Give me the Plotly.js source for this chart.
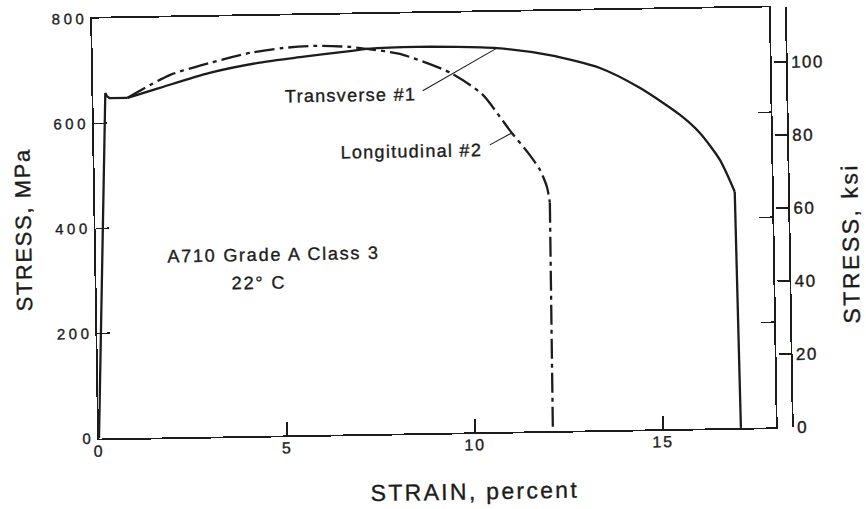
<!DOCTYPE html>
<html><head><meta charset="utf-8">
<script src="https://cdn.plot.ly/plotly-3.0.1.min.js"></script>
<style>
html,body{margin:0;padding:0;overflow:hidden;background:#fff;}
#chart{width:866px;height:509px;transform:rotate(-0.95deg);transform-origin:433px 254.5px;}
#chart text{stroke:#1c1c1c;stroke-width:0.35px;}
#chart g.xtick text{letter-spacing:2px;}
#chart g.ytick text{letter-spacing:3.5px;}
#chart g.y2tick text{letter-spacing:1.5px;}
#chart text.ytitle{letter-spacing:1.6px;}
#chart g.annotation text{letter-spacing:1.3px;}
#chart g.annotation[data-index="2"] text{letter-spacing:1.75px;}
#chart g.annotation[data-index="3"] text{letter-spacing:1.9px;}
#chart g.annotation[data-index="4"] text{letter-spacing:2.3px;}
#chart g.annotation[data-index="5"] text{letter-spacing:2.5px;}
</style></head>
<body><div id="chart"></div>
<script>
// axis ticks
const strainTicks = [0, 5, 10, 15];
const mpaTicks = [0, 200, 400, 600, 800];
const ksiTicks = [0, 20, 40, 60, 80, 100];

// shared elastic / yield / plateau portion (strain %, MPa)
const yieldStrain = [0, 0.32, 0.36, 0.43, 0.91];
const yieldStress = [0, 658, 652, 648, 648];

// Transverse #1 (solid)
const transStrain = [0.91, 1.77, 3.10, 4.44, 5.51, 6.84, 7.29, 8.62, 10.75, 12.15, 13.48, 14.53, 15.59, 16.11, 16.63, 17.01];
const transStress = [648, 666, 693, 711, 720, 730, 733.6, 736, 731, 716, 690, 651, 598, 563, 511, 450];
const transFracStrain = [17.01, 17.07];
const transFracStress = [450, 0];

// Longitudinal #2 (dash-dot)
const longStrain = [0.91, 2.04, 3.11, 4.18, 5.06, 5.96, 6.84, 7.29, 8.17, 9.49, 10.35, 10.80, 11.11, 11.53, 11.84, 12.02, 12.09];
const longStress = [648, 690, 712, 729.6, 738, 741, 738, 733.6, 723, 686, 643, 600, 569, 531, 498, 465, 435];
const longFracStrain = [12.09, 12.07];
const longFracStress = [435, 0];

// leader lines (strain %, MPa)
const leaderTransStrain = [8.76, 10.75];
const leaderTransStress = [652, 731];
const leaderLongStrain = [10.52, 11.11];
const leaderLongStress = [547, 569];

const ink = '#1c1c1c';
const dashDot = '20px,5px,4px,5px';

const traces = [
  {x: yieldStrain, y: yieldStress, mode: 'lines', line: {color: ink, width: 2.3}, hoverinfo: 'skip', showlegend: false},
  {x: transStrain, y: transStress, mode: 'lines', line: {color: ink, width: 2.3, shape: 'spline', smoothing: 0.7}, name: 'Transverse #1', showlegend: false},
  {x: transFracStrain, y: transFracStress, mode: 'lines', line: {color: ink, width: 2.3}, showlegend: false},
  {x: longStrain, y: longStress, mode: 'lines', line: {color: ink, width: 2.3, dash: dashDot, shape: 'spline', smoothing: 0.7}, name: 'Longitudinal #2', showlegend: false},
  {x: longFracStrain, y: longFracStress, mode: 'lines', line: {color: ink, width: 2.3, dash: dashDot}, showlegend: false},
  {x: [null], y: [null], yaxis: 'y2', mode: 'lines', hoverinfo: 'skip', showlegend: false}
];

const tf = {family: 'Liberation Sans, Arial, sans-serif', color: ink};

const layout = {
  width: 866, height: 509,
  margin: {l: 96, r: 66, t: 13, b: 76},
  paper_bgcolor: '#fff', plot_bgcolor: '#fff',
  font: tf,
  showlegend: false,
  xaxis: {
    domain: [0, 0.9616], range: [0, 18], tickvals: strainTicks, ticktext: strainTicks.map(String),
    ticks: 'inside', ticklen: 13, tickwidth: 1.8, tickcolor: ink,
    showline: true, linewidth: 1.8, linecolor: ink, mirror: true,
    showgrid: false, zeroline: false, tickfont: {size: 16}, ticklabelstandoff: -3
  },
  yaxis: {
    domain: [0, 1], range: [0, 800], tickvals: mpaTicks, ticktext: mpaTicks.map(String),
    ticks: 'inside', ticklen: 13, tickwidth: 1.8, tickcolor: ink,
    showline: true, linewidth: 1.8, linecolor: ink, mirror: 'ticks',
    showgrid: false, zeroline: false, tickfont: {size: 15}, ticklabelstandoff: 0,
    title: {text: 'STRESS, MPa', font: {size: 22}, standoff: 28}
  },
  yaxis2: {
    overlaying: 'y', anchor: 'free', position: 0.9844, side: 'right',
    range: [0, 115], tickvals: ksiTicks, ticktext: ksiTicks.map(String),
    ticks: 'inside', ticklen: 12, tickwidth: 1.8, tickcolor: ink,
    showline: true, linewidth: 1.8, linecolor: ink,
    showgrid: false, zeroline: false, tickfont: {size: 17}
  },
  shapes: [
    {type: 'line', xref: 'x', yref: 'y', x0: leaderTransStrain[0], y0: leaderTransStress[0], x1: leaderTransStrain[1], y1: leaderTransStress[1], line: {color: ink, width: 1.1}},
    {type: 'line', xref: 'x', yref: 'y', x0: leaderLongStrain[0], y0: leaderLongStress[0], x1: leaderLongStrain[1], y1: leaderLongStress[1], line: {color: ink, width: 1.1}}
  ],
  annotations: [
    {text: 'Transverse #1', xref: 'paper', yref: 'paper', x: 0.3652, y: 0.8067, showarrow: false, font: {size: 18}, xanchor: 'center', yanchor: 'middle'},
    {text: 'Longitudinal #2', xref: 'paper', yref: 'paper', x: 0.4499, y: 0.671, showarrow: false, font: {size: 18}, xanchor: 'center', yanchor: 'middle'},
    {text: 'A710 Grade A Class 3', xref: 'paper', yref: 'paper', x: 0.2528, y: 0.431, showarrow: false, font: {size: 18}, xanchor: 'center', yanchor: 'middle'},
    {text: '22° C', xref: 'paper', yref: 'paper', x: 0.2315, y: 0.365, showarrow: false, font: {size: 18}, xanchor: 'center', yanchor: 'middle'},
    {text: 'STRAIN, percent', xref: 'paper', yref: 'paper', x: 0.5327, y: -0.1412, showarrow: false, font: {size: 23}, xanchor: 'center', yanchor: 'middle'},
    {text: 'STRESS, ksi', xref: 'paper', yref: 'paper', x: 1.0713, y: 0.4345, textangle: -90, showarrow: false, font: {size: 23}, xanchor: 'center', yanchor: 'middle'}
  ]
};

Plotly.newPlot('chart', traces, layout, {staticPlot: true, displayModeBar: false});
</script>
</body></html>
